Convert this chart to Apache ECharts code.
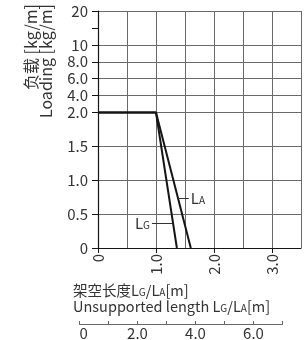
<!DOCTYPE html>
<html>
<head>
<meta charset="utf-8">
<script src="https://cdn.jsdelivr.net/npm/echarts@6/dist/echarts.min.js"></script>
<style>
html,body{margin:0;padding:0;background:#fff;}
#c{width:308px;height:340px;}
</style>
</head>
<body>
<div id="c"></div>
<script>
// ---- data ----
const yTickValues = [0, 0.5, 1.0, 1.5, 2.0, 4.0, 6.0, 8.0, 10, 15, 20];
const yTickLabels = ['0', '0.5', '1.0', '1.5', '2.0', '4.0', '6.0', '8.0', '10', '', '20'];
const xTickValues = [0, 1, 2, 3];
const xTickLabels = ['0', '1.0', '2.0', '3.0'];
const bottomTickValues = [0, 2, 4, 6];
const bottomTickLabels = ['0', '2.0', '4.0', '6.0'];
const lgLength = [0, 1.0, 1.36];
const lgLoading = [2.0, 2.0, 0];
const laLength = [0, 1.0, 1.6];
const laLoading = [2.0, 2.0, 0];

// ---- piecewise loading scale (slot positions of each tick) ----
const ySlots = [0, 2, 4, 6, 8, 9, 10, 11, 12, 13, 14];
function loadToPos(v) {
  for (let i = 0; i < yTickValues.length - 1; i++) {
    const a = yTickValues[i], b = yTickValues[i + 1];
    if (v <= b) return ySlots[i] + (v - a) / (b - a) * (ySlots[i + 1] - ySlots[i]);
  }
  return ySlots[ySlots.length - 1];
}
const nSlots = ySlots[ySlots.length - 1] + 1;
const slotNames = [];
const slotTick = [];
const slotGrid = [];
for (let s = 0; s < nSlots; s++) { slotNames.push(''); slotTick.push(false); slotGrid.push(false); }
ySlots.forEach((s, i) => {
  slotNames[s] = yTickLabels[i];
  slotTick[s] = true;
  slotGrid[s] = yTickLabels[i] !== '' && s !== 0;
});

const FONT = "'Noto Sans CJK JP', 'Noto Sans', sans-serif";
const TXT = '#333';
const LINE = '#151515';

function lineData(xs, ys) { return xs.map((x, i) => [x, loadToPos(ys[i])]); }
function subRich(size) {
  return {
    l: { fontFamily: FONT, fontSize: size, color: TXT, verticalAlign: 'bottom' },
    s: { fontFamily: FONT, fontSize: 10, color: TXT, verticalAlign: 'bottom', padding: [0, 0, 1, 0] }
  };
}

const chart = echarts.init(document.getElementById('c'), null, { renderer: 'canvas' });
const option = {
  animation: false,
  backgroundColor: '#fff',
  grid: [
    { left: 98, top: 11, width: 203, height: 237, containLabel: false, outerBoundsMode: 'none' },
    { left: 79.5, top: 323, width: 203, height: 1, containLabel: false, outerBoundsMode: 'none' }
  ],
  xAxis: [
    { type: 'value', gridIndex: 0, position: 'bottom', min: 0, max: 3.5, interval: 0.5,
      axisLine: { show: true, onZero: false, lineStyle: { color: LINE, width: 1.2 } },
      axisTick: { show: false }, axisLabel: { show: false },
      splitLine: { show: true, lineStyle: { color: '#6a6a6a', width: 1 } } },
    { type: 'value', gridIndex: 0, position: 'bottom', min: 0, max: 3.5,
      axisLine: { show: false, onZero: false },
      axisTick: { show: true, length: 5, customValues: xTickValues, lineStyle: { color: LINE } },
      axisLabel: { show: true, rotate: 90, margin: 6, customValues: xTickValues,
        formatter: v => xTickLabels[xTickValues.indexOf(v)] ?? '',
        fontFamily: FONT, fontSize: 15, color: TXT },
      splitLine: { show: false } },
    { type: 'value', gridIndex: 1, position: 'bottom', min: 0, max: 7, interval: 1,
      axisLine: { show: true, onZero: false, lineStyle: { color: '#666', width: 1 } },
      axisTick: { show: true, inside: true, length: 3, lineStyle: { color: '#666' } },
      axisLabel: { show: true, margin: 2, alignMinLabel: 'left',
        formatter: v => { const i = bottomTickValues.indexOf(v); return i >= 0 ? bottomTickLabels[i] : ''; },
        fontFamily: FONT, fontSize: 15, color: TXT },
      splitLine: { show: false } }
  ],
  yAxis: [
    { type: 'value', gridIndex: 0, position: 'left', min: 0, max: nSlots - 1, show: false },
    { type: 'category', gridIndex: 0, position: 'left', data: slotNames, boundaryGap: false,
      axisLine: { show: true, onZero: false, lineStyle: { color: LINE, width: 1.2 } },
      axisTick: { show: true, length: 6, interval: (i) => slotTick[i], lineStyle: { color: LINE } },
      axisLabel: { show: true, margin: 10, interval: (i) => slotTick[i],
        fontFamily: FONT, fontSize: 15, color: TXT },
      splitLine: { show: true, interval: (i) => slotGrid[i], lineStyle: { color: '#6a6a6a', width: 1 } } },
    { type: 'value', gridIndex: 1, min: 0, max: 1, show: false }
  ],
  series: [
    { name: 'LG', type: 'line', xAxisIndex: 0, yAxisIndex: 0, symbol: 'none',
      data: lineData(lgLength, lgLoading),
      lineStyle: { color: LINE, width: 2 },
      markLine: { silent: true, symbol: ['none', 'none'],
        lineStyle: { color: '#333', width: 1, type: 'solid' },
        label: { show: true, position: 'start', distance: 2, formatter: '{l|L}{s|G}', rich: subRich(15) },
        data: [[{ coord: [0.93, loadToPos(0.36)] }, { coord: [1.28, loadToPos(0.36)] }]] } },
    { name: 'LA', type: 'line', xAxisIndex: 0, yAxisIndex: 0, symbol: 'none',
      data: lineData(laLength, laLoading),
      lineStyle: { color: LINE, width: 2 },
      markLine: { silent: true, symbol: ['none', 'none'],
        lineStyle: { color: '#333', width: 1, type: 'solid' },
        label: { show: true, position: 'end', distance: 2, formatter: '{l|L}{s|A}', rich: subRich(15) },
        data: [[{ coord: [1.38, loadToPos(0.73)] }, { coord: [1.565, loadToPos(0.73)] }]] } }
  ],
  graphic: [
    { type: 'text', x: 31, y: 4, rotation: Math.PI / 2,
      style: { text: '负载 [kg/m]', font: '16px ' + FONT, fill: TXT, align: 'right', verticalAlign: 'middle' } },
    { type: 'text', x: 46, y: 4, rotation: Math.PI / 2,
      style: { text: 'Loading [kg/m]', font: '16px ' + FONT, fill: TXT, align: 'right', verticalAlign: 'middle' } },
    { type: 'text', x: 73, y: 282,
      style: { text: '架空长度{l|L}{s|G}/{l|L}{s|A}[m]\nUnsupported length {l|L}{s|G}/{l|L}{s|A}[m]',
        font: '14.5px ' + FONT, fill: TXT, lineHeight: 16, rich: subRich(14.5) } }
  ]
};
chart.setOption(option);
</script>
</body>
</html>
